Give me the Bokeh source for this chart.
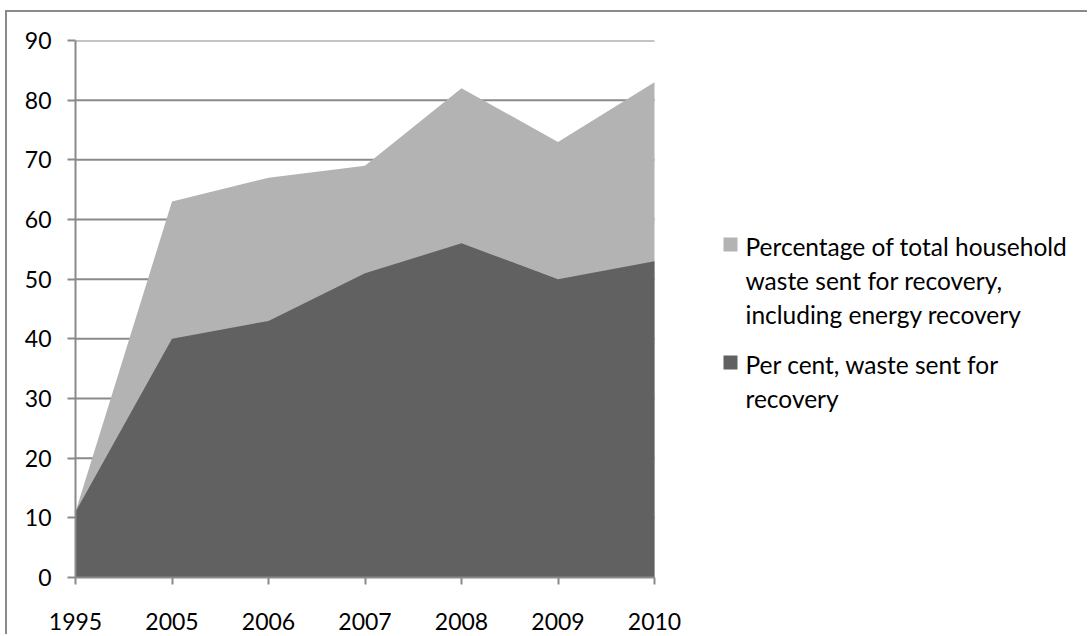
from bokeh.plotting import figure
from bokeh.models import Range1d, FixedTicker, Label, BoxAnnotation
from bokeh.embed import file_html
from bokeh.resources import INLINE

# Household waste recovery, per cent
years = ["1995", "2005", "2006", "2007", "2008", "2009", "2010"]
incl_energy = [11, 63, 67, 69, 82, 73, 83]   # incl. energy recovery
recovery = [11, 40, 43, 51, 56, 50, 53]      # waste sent for recovery
y_ticks = [0, 10, 20, 30, 40, 50, 60, 70, 80, 90]

legend_incl = ["Percentage of total household", "waste sent for recovery,",
               "including energy recovery"]
legend_rec = ["Per cent, waste sent for", "recovery"]

FONT = "Lato"
GRID = "#8a8a8a"
LIGHT = "#b3b3b3"
DARK = "#616161"

# page frame: a border on the top and left of the chart
MARGIN_L, MARGIN_T, BORDER = 5, 10, 2
W = 1089 - MARGIN_L - BORDER
H = 636 - MARGIN_T - BORDER
PLOT_L, PLOT_R, PLOT_T, PLOT_B = 68, 647, 28, 565   # plotting area inside the canvas

xs = list(range(len(years)))
x_end = (len(years) - 1) * (W - PLOT_L) / (PLOT_R - PLOT_L)   # frame also holds the legend

p = figure(width=W, height=H, output_backend="svg", toolbar_location=None,
           x_range=Range1d(0, x_end), y_range=Range1d(y_ticks[0], y_ticks[-1]),
           min_border_left=PLOT_L, min_border_right=0,
           min_border_top=PLOT_T, min_border_bottom=H - PLOT_B)
p.margin = (MARGIN_T, 0, 0, MARGIN_L)
p.styles = {"border-left": f"{BORDER}px solid {GRID}", "border-top": f"{BORDER}px solid {GRID}"}
p.outline_line_color = None
p.background_fill_color = "white"
p.border_fill_color = "white"

# horizontal gridlines across the plotting area only
p.segment(x0=0, x1=xs[-1], y0=y_ticks, y1=y_ticks, line_color=GRID, line_width=2)

r_light = p.varea(x=xs, y1=0, y2=incl_energy, fill_color=LIGHT)
r_dark = p.varea(x=xs, y1=0, y2=recovery, fill_color=DARK)

# axes
p.xaxis.ticker = FixedTicker(ticks=xs)
p.xaxis.major_label_overrides = {i: y for i, y in enumerate(years)}
p.xaxis.bounds = (xs[0], xs[-1])
p.yaxis.ticker = FixedTicker(ticks=y_ticks)
for ax in (p.xaxis[0], p.yaxis[0]):
    ax.axis_line_color = GRID
    ax.axis_line_width = 2
    ax.major_tick_line_color = GRID
    ax.major_tick_line_width = 2
    ax.major_tick_in = 0
    ax.minor_tick_line_color = None
    ax.major_label_text_font = FONT
    ax.major_label_text_font_size = "23px"
    ax.major_label_text_color = "black"
p.xaxis.major_tick_out = 7
p.yaxis.major_tick_out = 8
p.xaxis.major_label_standoff = 28
p.yaxis.major_label_standoff = 16
p.xgrid.grid_line_color = None
p.ygrid.grid_line_color = None

# legend: swatch plus wrapped label lines (screen units from the frame's bottom-left)
LINE = 34
def legend_entry(color, lines, top):
    p.add_layout(BoxAnnotation(left=648, right=662, top=top, bottom=top - 14,
                               left_units="screen", right_units="screen",
                               top_units="screen", bottom_units="screen",
                               fill_color=color, fill_alpha=1, line_color=None))
    for i, line in enumerate(lines):
        p.add_layout(Label(x=670, y=top - 9 - i * LINE, x_units="screen", y_units="screen",
                           text=line, text_font=FONT, text_font_size="24.5px",
                           text_color="black", text_baseline="alphabetic"))

legend_entry(LIGHT, legend_incl, 340)
legend_entry(DARK, legend_rec, 222)

open("out.html", "w").write(file_html(p, INLINE))
